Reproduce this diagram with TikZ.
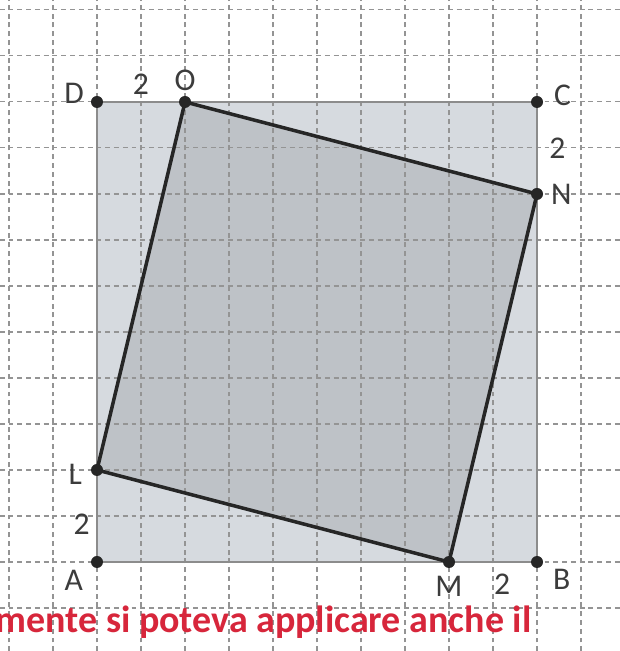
\documentclass[tikz,border=0pt]{standalone}
\usepackage{fontspec}
\setmainfont{Carlito}
\usepackage{xcolor}
\usepackage{tikz}
\usetikzlibrary{positioning,calc}
\definecolor{outerfill}{HTML}{D6DADF}
\definecolor{innerfill}{HTML}{BEC2C7}
\definecolor{labelgray}{HTML}{3C3C3C}
\definecolor{notered}{HTML}{D7263B}

\begin{document}
\begin{tikzpicture}[
  x=0.44cm, y=0.46cm,
  pt/.style={circle, fill=black!85, inner sep=0pt, minimum size=1.2mm},
  lbl/.style={font=\fontsize{9}{10}\selectfont, text=labelgray, inner sep=0.5pt},
  gridline/.style={dash pattern=on 1.4pt off 1.1pt, black!42, line width=0.3pt},
  outer/.style={draw=black!45, line width=0.7pt, fill=outerfill},
  inner/.style={draw=black!85, line width=1pt, fill=innerfill}
]
\useasboundingbox (-2.2045,-1.9348) rectangle (11.886,12.217);

% Vertices
\coordinate (A) at (0,0);
\coordinate (B) at (10,0);
\coordinate (C) at (10,10);
\coordinate (D) at (0,10);
\coordinate (L) at (0,2);
\coordinate (M) at (8,0);
\coordinate (N) at (10,8);
\coordinate (O) at (2,10);

% Squares
\fill[outerfill] (A) -- (B) -- (C) -- (D) -- cycle;
\fill[innerfill] (L) -- (M) -- (N) -- (O) -- cycle;

% Grid
\foreach \i in {-2,...,11}
  \draw[gridline] (\i,-1.94) -- (\i,12.22);
\foreach \j in {-1,...,12}
  \draw[gridline] (-2.21,\j) -- (11.89,\j);

% Outlines
\draw[outer, fill=none] (A) -- (B) -- (C) -- (D) -- cycle;
\draw[inner, fill=none] (L) -- (M) -- (N) -- (O) -- cycle;

% Points
\foreach \p in {A,B,C,D,L,M,N,O}
  \node[pt] (p\p) at (\p) {};

% Labels
\node[lbl, left=0.4mm of pD, yshift=0.9mm] (lD) {D};
\node[lbl, above=0.2mm of pO] (lO) {O};
\node[lbl, right=0.8mm of pC, yshift=0.7mm] (lC) {C};
\node[lbl, right=0.5mm of pN] (lN) {N};
\node[lbl, left=0.6mm of pL, yshift=-0.4mm] (lL) {L};
\node[lbl, below left=0.1mm and 0.7mm of pA] (lA) {A};
\node[lbl, below=0.5mm of pM] (lM) {M};
\node[lbl, below right=0mm and 0.9mm of pB] (lB) {B};

% Lengths
\path (D) -- node[lbl, above=0.5mm] (dDO) {2} (O);
\path (C) -- node[lbl, right=1mm] (dCN) {2} (N);
\path (A) -- node[lbl, left=0.5mm, yshift=-0.8mm] (dAL) {2} (L);
\path (M) -- node[lbl, below=1mm, xshift=0.9mm] (dMB) {2} (B);

% Note
\node[anchor=base east, inner sep=0pt, text=notered,
  font=\bfseries\fontsize{10.8}{12}\selectfont] (note) at (9.886,-1.54)
  {mente si poteva applicare anche il};

\end{tikzpicture}
\end{document}
